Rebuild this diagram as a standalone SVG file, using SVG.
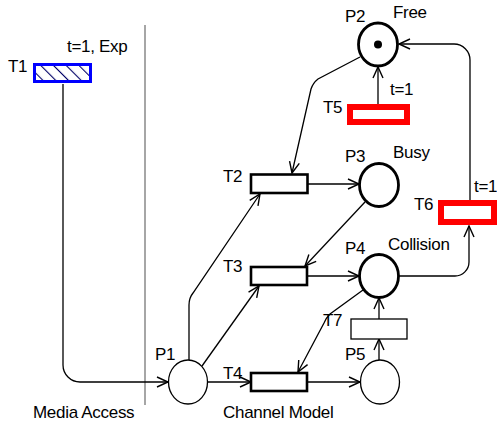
<svg xmlns="http://www.w3.org/2000/svg" width="497" height="425" viewBox="0 0 497 425">
<style>
text{font-family:"Liberation Sans",Arial,sans-serif;font-size:17px;fill:#000;letter-spacing:-0.3px}
.c{fill:none;stroke:#000;stroke-width:1.3}
.pt{fill:#fff;stroke:#000;stroke-width:1.3}
.pk{fill:#fff;stroke:#000;stroke-width:2.8}
.tk{fill:#fff;stroke:#000;stroke-width:2.6}
.tr{fill:#fff;stroke:#f00;stroke-width:6}
</style>
<defs>
<marker id="a" markerUnits="userSpaceOnUse" markerWidth="14" markerHeight="12" refX="11" refY="5" orient="auto" overflow="visible">
<path d="M0,0 L11,5 L0,10" fill="none" stroke="#000" stroke-width="1.4"/>
</marker>
<pattern id="h" patternUnits="userSpaceOnUse" width="9" height="9" patternTransform="rotate(-45)">
<rect width="9" height="9" fill="#fff"/>
<line x1="0" y1="0" x2="0" y2="9" stroke="#000066" stroke-width="2.2"/>
</pattern>
</defs>
<line x1="145" y1="25" x2="145" y2="405" stroke="#888" stroke-width="1.5"/>
<g id="connectors">
<path class="c" d="M63,84 V365 A17,17 0 0 0 80,382 H168" marker-end="url(#a)"/>
<path class="c" d="M207,382 H251" marker-end="url(#a)"/>
<path class="c" d="M307,382 H360" marker-end="url(#a)"/>
<path class="c" d="M189,360 V305 Q189,298 193,293 L260,194" marker-end="url(#a)"/>
<path class="c" d="M202,366 L259,286" marker-end="url(#a)"/>
<path class="c" d="M308,184 H359" marker-end="url(#a)"/>
<path class="c" d="M307,276 H359" marker-end="url(#a)"/>
<path class="c" d="M365,202 L305,266" marker-end="url(#a)"/>
<path class="c" d="M360,57 L318,79 Q313,83 311,89 L292,173" marker-end="url(#a)"/>
<path class="c" d="M378,104 V67" marker-end="url(#a)"/>
<path class="c" d="M470,200 V60 A16,16 0 0 0 454,44 H399" marker-end="url(#a)"/>
<path class="c" d="M399,276 H455 A14,14 0 0 0 469,262 V226" marker-end="url(#a)"/>
<path class="c" d="M379,360 V339" marker-end="url(#a)"/>
<path class="c" d="M379,319 V298" marker-end="url(#a)"/>
<path class="c" d="M363,290 L330,314 Q326,318 324,323 L298,372" marker-end="url(#a)"/>
</g>
<g id="T1">
<rect x="34.5" y="64.5" width="56" height="17" fill="url(#h)" stroke="#00f" stroke-width="3"/>
<text x="8" y="72">T1</text>
<text x="67" y="52">t=1, Exp</text>
</g>
<g id="P1">
<ellipse class="pt" cx="188" cy="382" rx="19.5" ry="22"/>
<text x="155" y="360">P1</text>
</g>
<g id="P2">
<ellipse class="pk" cx="378" cy="44.5" rx="19.5" ry="21.5"/>
<circle cx="378" cy="44.5" r="4" fill="#000"/>
<text x="345" y="22">P2</text>
<text x="393" y="18">Free</text>
</g>
<g id="P3">
<ellipse class="pk" cx="379" cy="185" rx="19.5" ry="21.5"/>
<text x="345" y="162">P3</text>
<text x="393" y="158">Busy</text>
</g>
<g id="P4">
<ellipse class="pk" cx="379" cy="276" rx="19.5" ry="21.5"/>
<text x="345" y="254">P4</text>
<text x="388" y="250">Collision</text>
</g>
<g id="P5">
<ellipse class="pt" cx="380" cy="382" rx="19.5" ry="22"/>
<text x="345" y="360">P5</text>
</g>
<g id="T2">
<rect class="tk" x="251" y="174.5" width="56.5" height="18.5"/>
<text x="223" y="182">T2</text>
</g>
<g id="T3">
<rect class="tk" x="251" y="267" width="56" height="18"/>
<text x="223" y="272">T3</text>
</g>
<g id="T4">
<rect class="tk" x="251" y="373" width="56" height="18"/>
<text x="223" y="379">T4</text>
</g>
<g id="T5">
<rect class="tr" x="350" y="107" width="57" height="15"/>
<text x="323" y="113">T5</text>
<text x="390" y="95">t=1</text>
</g>
<g id="T6">
<rect class="tr" x="441" y="203" width="53" height="19"/>
<text x="414" y="210">T6</text>
<text x="474" y="192">t=1</text>
</g>
<g id="T7">
<rect class="pt" x="351" y="319" width="56" height="20"/>
<text x="323" y="326">T7</text>
</g>
<text x="33" y="418">Media Access</text>
<text x="223" y="418">Channel Model</text>
</svg>
